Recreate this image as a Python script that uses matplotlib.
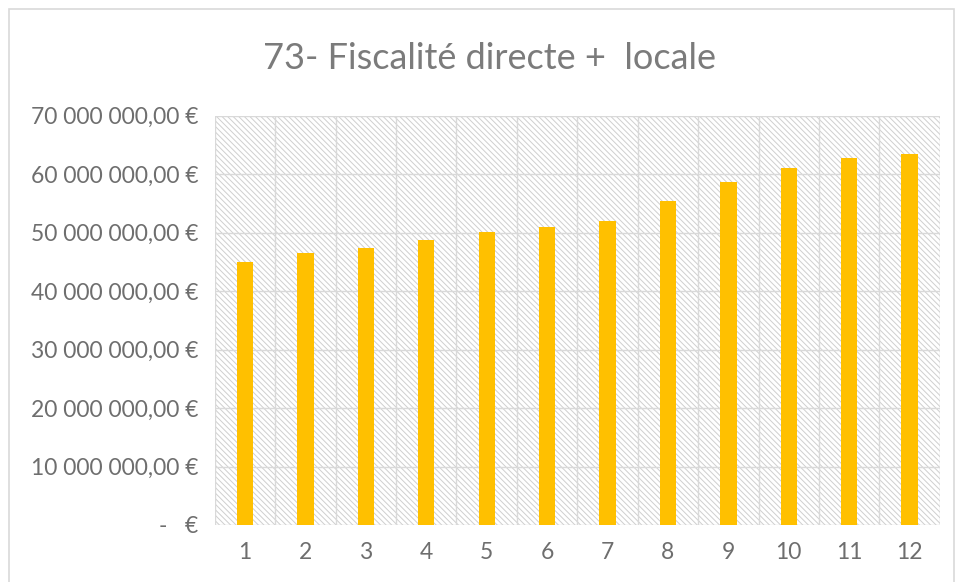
#!/usr/bin/env python3

import numpy as np
import matplotlib.pyplot as plt
from matplotlib.patches import Rectangle

categories = [str(i) for i in range(1, 13)]
values = [45.0e6, 46.6e6, 47.4e6, 48.8e6, 50.2e6, 50.9e6,
          52.0e6, 55.5e6, 58.7e6, 61.1e6, 62.7e6, 63.5e6]
title = "73- Fiscalité directe +  locale"
yticks = np.arange(0, 70e6 + 1, 10e6)

plt.rcParams['font.family'] = ['Lato', 'DejaVu Sans']
plt.rcParams['hatch.linewidth'] = 0.7
plt.rcParams['hatch.color'] = '#cfcfcf'

fig = plt.figure(figsize=(9.59, 5.82), dpi=100)
ax = fig.add_axes([0.224, 0.098, 0.756, 0.703])

x = np.arange(1, len(values) + 1)

# hatched plot area
bg = Rectangle((0, 0), 1, 1, transform=ax.transAxes, facecolor='white',
               edgecolor='#cfcfcf', hatch='\\\\\\\\\\\\', linewidth=0, zorder=0)
ax.add_patch(bg)

ax.bar(x, values, width=0.27, color='#FFC000', zorder=3)

ax.set_xlim(0.5, 12.5)
ax.set_ylim(0, 70e6)
ax.set_xticks(x)
ax.set_xticklabels(categories)
ax.set_yticks(yticks)


def fmt(v):
    if v == 0:
        return "-   €"
    s = f"{v:,.2f}".replace(",", " ").replace(".", ",")
    return s + " €"


ax.set_yticklabels([fmt(v) for v in yticks])

for yv in yticks:
    ax.axhline(yv, color='#d9d9d9', linewidth=1, zorder=1)
for xv in np.arange(0.5, 13, 1.0):
    ax.axvline(xv, color='#d9d9d9', linewidth=1, zorder=1)

for s in ax.spines.values():
    s.set_visible(False)
ax.tick_params(length=0, labelsize=16.5, colors='#6e6e6e', pad=12)
ax.tick_params(axis='x', pad=12)

fig.text(0.51, 0.9, title, ha='center', va='center', fontsize=26, color='#7b7b7b')

# chart border
fig.patches.append(Rectangle((0.009, -0.01), 0.986, 0.995, transform=fig.transFigure,
                             fill=False, edgecolor='#d9d9d9', linewidth=1.2))

fig.savefig("out.png", dpi=100)
